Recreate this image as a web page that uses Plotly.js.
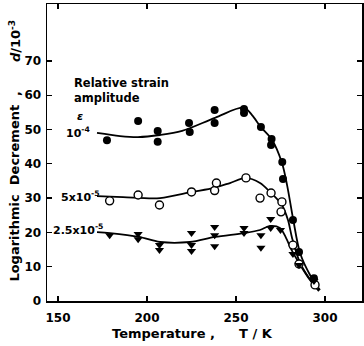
<!DOCTYPE html>
<html>
<head>
<meta charset="utf-8">
<script src="https://cdn.plot.ly/plotly-3.0.1.min.js"></script>
<style>html,body{margin:0;padding:0;background:#fff;}#chart{width:364px;height:346px;}</style>
</head>
<body>
<div id="chart"></div>
<script>
// Measured points, strain amplitude 1e-4 (filled circles)
var tA = [177.5, 195, 206, 206, 223.6, 224, 238, 238, 254.5, 254.5, 264, 270, 269.7, 276, 276.4, 282, 285.4, 293.8];
var dA = [46.9, 52.5, 49.6, 46.4, 51.9, 49.3, 55.7, 51.9, 56.0, 54.8, 50.7, 47.2, 45.5, 40.5, 35.6, 23.6, 14.3, 6.6];
// strain amplitude 5e-5 (open circles)
var tB = [179, 195, 207, 225, 238, 239, 255.6, 263.5, 269.7, 275.8, 275.3, 282, 285.4, 294.4];
var dB = [29.2, 30.9, 28.0, 31.8, 32.2, 34.4, 35.9, 30.0, 31.5, 28.9, 26.0, 16.3, 10.8, 4.7];
// strain amplitude 2.5e-5 (down triangles)
var tC = [179, 195, 195, 207, 207, 225, 225, 225, 238, 238, 238, 254.5, 254.5, 264, 264, 269.5, 269.5, 275, 282, 285.4, 293.8];
var dC = [19.2, 19.5, 18.0, 16.3, 14.9, 19.8, 16.3, 14.6, 21.6, 19.2, 16.0, 21.3, 19.8, 19.2, 15.5, 23.9, 21.3, 20.7, 13.7, 10.5, 5.8];
// Fitted curves
var cAx = [171.9, 184.8, 194.9, 207.3, 219.7, 238.2, 254.5, 259.0, 264.0, 270.2, 275.8, 278.7, 282.0, 286.0, 291.6, 297.2];
var cAy = [49.0, 48.1, 47.8, 48.4, 49.6, 53.4, 56.4, 54.2, 50.7, 47.0, 40.3, 33.8, 24.2, 14.0, 7.6, 3.2];
var cBx = [171.9, 186.5, 207.3, 225.3, 237.6, 246.6, 255.6, 263.5, 269.1, 275.8, 279.2, 281.5, 286.0, 292.7, 296.6];
var cBy = [30.6, 30.3, 30.0, 31.8, 33.0, 34.4, 35.9, 34.4, 31.8, 28.0, 23.6, 18.4, 11.1, 5.5, 3.2];
var cCx = [171.9, 179.2, 195.5, 207.3, 224.2, 238.2, 254.5, 263.5, 269.1, 274.7, 278.1, 281.5, 285.4, 291.6, 296.6];
var cCy = [20.1, 19.8, 18.7, 17.2, 17.2, 18.7, 19.8, 20.7, 21.9, 21.3, 18.4, 14.6, 11.1, 6.1, 2.9];

var xTicks = [150, 200, 250, 300];
var yTicks = [0, 10, 20, 30, 40, 50, 60, 70];

var lineStyle = {color: '#000', width: 1.8, shape: 'spline', smoothing: 0.9};
var traces = [
  {x: cAx, y: cAy, mode: 'lines', line: lineStyle, hoverinfo: 'skip'},
  {x: cBx, y: cBy, mode: 'lines', line: lineStyle, hoverinfo: 'skip'},
  {x: cCx, y: cCy, mode: 'lines', line: lineStyle, hoverinfo: 'skip'},
  {x: tA, y: dA, mode: 'markers', marker: {symbol: 'circle', size: 8, color: '#000'}},
  {x: tB, y: dB, mode: 'markers', marker: {symbol: 'circle', size: 8, color: '#fff', line: {color: '#000', width: 1.4}}},
  {x: tC, y: dC, mode: 'markers', marker: {symbol: 'triangle-down', size: 8, color: '#000'}}
];

var lab = {family: 'DejaVu Sans', size: 11, color: '#000', weight: 'bold'};
var tit = {family: 'DejaVu Sans', size: 13, color: '#000', weight: 'bold'};
function ann(x, y, text, extra) {
  var a = {x: x, y: y, xref: 'paper', yref: 'paper', text: text, showarrow: false,
           xanchor: 'center', yanchor: 'middle', font: tit};
  for (var k in extra) a[k] = extra[k];
  return a;
}
var layout = {
  width: 364, height: 346,
  margin: {l: 47, r: 2, t: 4, b: 45},
  paper_bgcolor: '#fff', plot_bgcolor: '#fff',
  showlegend: false,
  xaxis: {
    range: [143.8, 320.8], tickvals: xTicks, ticktext: xTicks.map(String),
    ticks: 'inside', ticklen: 5, tickwidth: 1.3, tickcolor: '#000',
    showline: true, linecolor: '#000', linewidth: 1.5, mirror: 'ticks',
    showgrid: false, zeroline: false, ticklabelstandoff: 5,
    tickfont: {family: 'DejaVu Sans', size: 12, color: '#000', weight: 'bold'}
  },
  yaxis: {
    range: [0, 86.6], tickvals: yTicks, ticktext: yTicks.map(String),
    ticks: 'inside', ticklen: 5, tickwidth: 1.3, tickcolor: '#000',
    showline: true, linecolor: '#000', linewidth: 1.5, mirror: 'ticks',
    showgrid: false, zeroline: false, ticklabelstandoff: 2,
    tickfont: {family: 'DejaVu Sans', size: 12, color: '#000', weight: 'bold'}
  },
  annotations: [
    {x: 158.0, y: 61.3, xref: 'x', yref: 'y', text: 'Relative strain<br>amplitude', align: 'left', showarrow: false, xanchor: 'left', yanchor: 'middle', font: {family: 'DejaVu Sans', size: 11.5, color: '#000', weight: 'bold'}},
    {x: 162.4, y: 53.8, xref: 'x', yref: 'y', text: '<i>ε</i>', showarrow: false, xanchor: 'center', yanchor: 'middle', font: lab},
    {x: 161, y: 49.2, xref: 'x', yref: 'y', text: '10<sup>-4</sup>', showarrow: false, xanchor: 'center', yanchor: 'middle', font: lab},
    {x: 162.4, y: 30.4, xref: 'x', yref: 'y', text: '5x10<sup>-5</sup>', showarrow: false, xanchor: 'center', yanchor: 'middle', font: lab},
    {x: 161.2, y: 20.8, xref: 'x', yref: 'y', text: '2.5x10<sup>-5</sup>', showarrow: false, xanchor: 'center', yanchor: 'middle', font: lab},
    ann(0.2, -0.108, 'Temperature ,', {xanchor: 'left'}),
    ann(0.603, -0.108, 'T / K', {xanchor: 'left'}),
    ann(-0.1016, 0.365, 'Logarithmic  Decrement', {textangle: -90}),
    ann(-0.1016, 0.70, ',', {textangle: -90}),
    ann(-0.1016, 0.875, '<i>d</i>/10<sup>-3</sup>', {textangle: -90})
  ]
};
Plotly.newPlot('chart', traces, layout, {staticPlot: true, displayModeBar: false});
</script>
</body>
</html>
